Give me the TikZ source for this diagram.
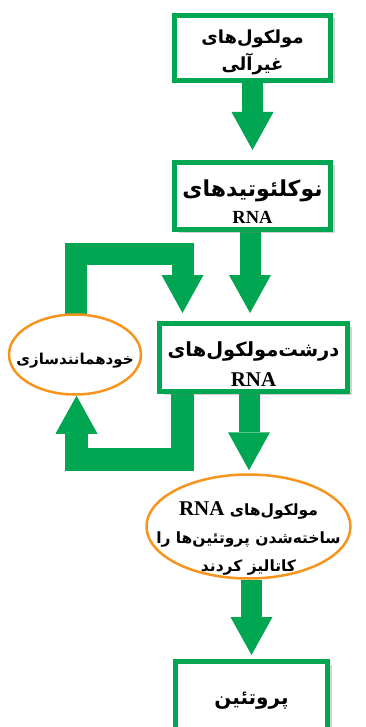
\documentclass[tikz,border=0pt]{standalone}
\usepackage{fontspec}
\usetikzlibrary{positioning,arrows.meta,shapes.geometric,shadows,backgrounds}
\TeXXeTstate=1
\newfontfamily\farsifont[Script=Arabic]{DejaVu Sans}
\newfontfamily\rnafont{Liberation Serif}
\definecolor{boxgreen}{RGB}{0,166,81}
\definecolor{ringorange}{RGB}{247,148,29}
\newcommand{\fa}[1]{\beginR #1\endR}
\newcommand{\rnaword}[1]{\beginL{\fontsize{#1}{#1}\rnafont\bfseries RNA}\endL}

\tikzset{
  greenbox/.style={draw=boxgreen, line width=5pt, fill=white, inner sep=0pt,
    drop shadow={shadow xshift=4pt, shadow yshift=-3pt, opacity=0.35}},
  ringnode/.style={ellipse, draw=ringorange, line width=2.5pt, fill=white, inner sep=0pt},
  label text/.style={align=center, inner sep=0pt},
  fatarrow/.style={draw=boxgreen, line width=21pt, line join=miter,
    -{Triangle[width=42pt,length=38pt,line width=0pt]}},
}

\begin{document}
\begin{tikzpicture}[x=1pt,y=-1pt]
  \useasboundingbox (0,0) rectangle (365,727);

  % main column
  \node[greenbox, minimum width=156pt, minimum height=65pt] (inorg) at (252.5,48) {};
  \node[label text, font=\fontsize{18}{27}\farsifont\bfseries] (inorgtext) at ([yshift=-4pt]inorg.center)
        {\fa{مولکول‌های}\\\fa{غیرآلی}};
  \node[greenbox, minimum width=156pt, minimum height=67pt] (nucl) at (252.5,196) {};
  \node[label text, font=\fontsize{22}{27}\farsifont\bfseries] (nucltext) at ([yshift=-6pt]nucl.center)
        {\fa{نوکلئوتیدهای}\\\rnaword{18.5}};
  \node[greenbox, minimum width=188pt, minimum height=68pt] (macro) at (253.5,357.5) {};
  \node[label text, font=\fontsize{19.5}{30}\farsifont\bfseries] (macrotext) at ([yshift=-7pt]macro.center)
        {\fa{درشت‌مولکول‌های}\\\rnaword{21}};
  \node[ringnode, minimum width=204pt, minimum height=104pt] (cat) at (248.5,526.5) {};
  \node[label text, font=\fontsize{15.5}{28}\farsifont\bfseries] (cattext) at ([yshift=-12pt]cat.center)
        {\fa{مولکول‌های \rnaword{21}}\\\fa{ساخته‌شدن پروتئین‌ها را}\\\fa{کاتالیز کردند}};
  \node[greenbox, minimum width=152pt, minimum height=74pt] (prot) at (251.5,698.5) {};
  \node[label text, font=\fontsize{20}{24}\farsifont\bfseries] (prottext) at ([yshift=-2pt]prot.center)
        {\fa{پروتئین}};

  % self-replication ring
  \node[ringnode, minimum width=132pt, minimum height=80pt] (self) at (75,354.5) {};
  \node[label text, font=\fontsize{15}{20}\farsifont\bfseries] (selftext) at ([yshift=-6pt]self.center)
        {\fa{خودهمانندسازی}};

  \coordinate (topleft) at (76,253.5);
  \coordinate (topright) at (182.5,253.5);
  \coordinate (lowright) at (182.5,459.5);
  \coordinate (lowleft) at (76.5,459.5);

  \begin{scope}[on background layer]
    \draw[fatarrow, shorten >=10pt] (inorg.south) -- (nucl.north);
    \draw[fatarrow, shorten >=8pt] (nucl.south -| 250,0) -- (macro.north -| 250,0);
    \draw[fatarrow, shorten >=3pt] (macro.south -| 249,0) -- (cat.north -| 249,0);
    \draw[fatarrow, shorten >=4pt] (cat.south -| prot.north) -- (prot.north);
    % loop
    \draw[fatarrow, line width=22pt, shorten >=8pt] (self.center -| topleft) -- (topleft)
        -- (topright) -- (topright |- macro.north);
    \draw[fatarrow, line width=23pt] (macro.south -| lowright) -- (lowright)
        -- (lowleft) -- (lowleft |- self.south);
  \end{scope}
\end{tikzpicture}
\end{document}
